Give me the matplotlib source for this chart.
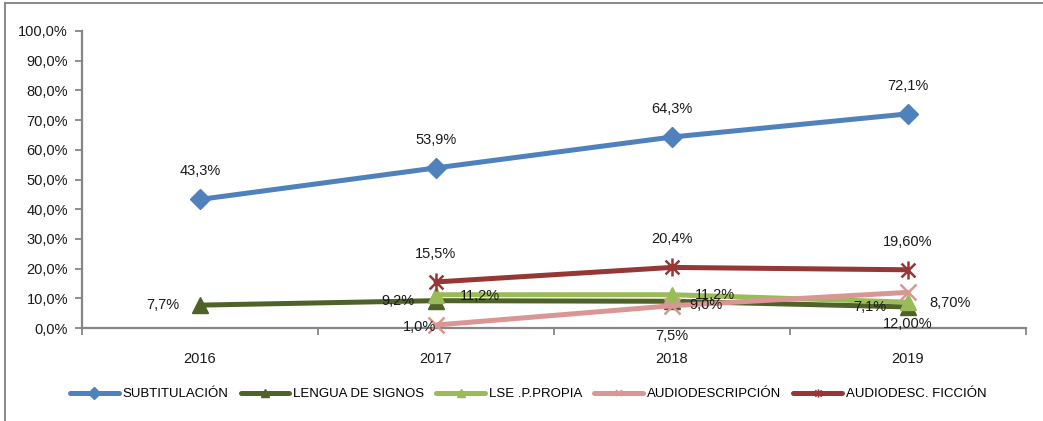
import numpy as np
import matplotlib
matplotlib.use("Agg")
import matplotlib.pyplot as plt
from matplotlib.path import Path
from matplotlib.lines import Line2D

plt.rcParams['font.family'] = ['Liberation Sans', 'DejaVu Sans']

# data
years = ["2016", "2017", "2018", "2019"]
subtitulacion = [43.3, 53.9, 64.3, 72.1]
lengua_signos = [7.7, 9.2, 9.0, 7.1]
lse_propia = [np.nan, 11.2, 11.2, 8.7]
audiodescripcion = [np.nan, 1.0, 7.5, 12.0]
audiodesc_ficcion = [np.nan, 15.5, 20.4, 19.6]

sub_labels = ["43,3%", "53,9%", "64,3%", "72,1%"]
lengua_labels = ["7,7%", "9,2%", "9,0%", "7,1%"]
lse_labels = [None, "11,2%", "11,2%", "8,70%"]
audio_labels = [None, "1,0%", "7,5%", "12,00%"]
ficcion_labels = [None, "15,5%", "20,4%", "19,60%"]

names = ["SUBTITULACIÓN", "LENGUA DE SIGNOS", "LSE .P.PROPIA",
         "AUDIODESCRIPCIÓN", "AUDIODESC. FICCIÓN"]
colors = ["#4F81BD", "#4F6228", "#9BBB59", "#D99694", "#953735"]

# asterisk marker (x with vertical bar)
star = Path([(-1, -1), (1, 1), (-1, 1), (1, -1), (0, -1.3), (0, 1.3)],
            [Path.MOVETO, Path.LINETO, Path.MOVETO, Path.LINETO, Path.MOVETO, Path.LINETO])

px = 72 / 100.0  # pixels -> points
fs = 10.5

fig = plt.figure(figsize=(10.43, 4.21), dpi=100)
ax = fig.add_axes([82 / 1043, 1 - 328 / 421, (1026 - 82) / 1043, (328 - 31) / 421])

x = np.arange(len(years))
series = [
    (subtitulacion, sub_labels, "D", 10, 6,
     [(0, 28)] * 4),
    (lengua_signos, lengua_labels, "^", 11, 6,
     [(-37, 0), (-38, 0), (34, -4), (-38, 0)]),
    (lse_propia, lse_labels, "^", 11, 6,
     [None, (44, -1), (43, 0), (42, -1)]),
    (audiodescripcion, audio_labels, "x", 11, 5,
     [None, (-17, -2), (0, -30), (0, -32)]),
    (audiodesc_ficcion, ficcion_labels, star, 13, 6,
     [None, (0, 28), (0, 28), (0, 28)]),
]

handles = []
for (vals, labs, mk, ms, lms, offs), name, c in zip(series, names, colors):
    filled = mk in ("D", "^")
    ax.plot(x, vals, color=c, lw=3.6, marker=mk, ms=ms,
            markerfacecolor=c if filled else "none",
            markeredgecolor=c, markeredgewidth=1.8 if not filled else 1.0,
            solid_capstyle="round", clip_on=False, zorder=3)
    for xi, v, lab, off in zip(x, vals, labs, offs):
        if lab is None:
            continue
        ax.annotate(lab, (xi, v), xytext=(off[0] * px, off[1] * px),
                    textcoords="offset points", ha="center", va="center",
                    fontsize=fs, color="#1a1a1a", zorder=5)
    handles.append(Line2D([0], [0], color=c, lw=3.6, marker=mk, ms=lms,
                          markerfacecolor=c if filled else "none",
                          markeredgecolor=c, markeredgewidth=1.2 if not filled else 1.0,
                          solid_capstyle="round"))

ax.set_xlim(-0.5, len(years) - 0.5)
ax.set_ylim(0, 100)
ax.set_yticks(np.arange(0, 101, 10))
ax.set_yticklabels([f"{v:.1f}%".replace(".", ",") for v in np.arange(0, 101, 10)])
ax.set_xticks(x)
ax.set_xticklabels(years)
ax.set_xticks(np.arange(-0.5, len(years), 1.0), minor=True)
ax.tick_params(axis="x", which="major", length=0, pad=17, labelsize=fs, colors="#1a1a1a")
ax.tick_params(axis="x", which="minor", length=5, width=1.3, color="#868686")
ax.tick_params(axis="y", length=5, width=1.3, color="#868686", labelsize=fs,
               labelcolor="#1a1a1a", pad=5)
for s in ("top", "right"):
    ax.spines[s].set_visible(False)
for s in ("left", "bottom"):
    ax.spines[s].set_color("#868686")
    ax.spines[s].set_linewidth(1.6)

fig.legend(handles, names, loc="center left", bbox_to_anchor=(70 / 1043, 1 - 394 / 421),
           ncol=5, frameon=False, fontsize=9.5, handlelength=3.7, handletextpad=0.3,
           columnspacing=0.9, borderaxespad=0, borderpad=0)

# outer chart border (left and top visible)
fig.add_artist(Line2D([5 / 1043, 5 / 1043], [0, 1 - 3 / 421], transform=fig.transFigure,
                      color="#8c8c8c", lw=1.5))
fig.add_artist(Line2D([5 / 1043, 1], [1 - 3 / 421, 1 - 3 / 421], transform=fig.transFigure,
                      color="#8c8c8c", lw=1.5))

fig.savefig("out.png", dpi=100)
